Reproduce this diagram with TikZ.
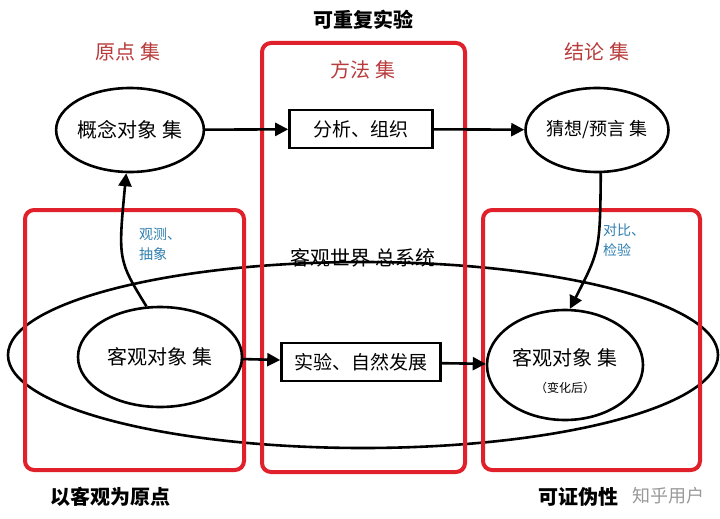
\documentclass[tikz,border=0pt]{standalone}
\usepackage{fontspec}
\setmainfont{Noto Sans CJK SC}
\usetikzlibrary{arrows.meta,shapes.geometric}
\definecolor{dred}{HTML}{B83A3A}
\definecolor{rbox}{HTML}{E0202A}
\definecolor{lblue}{HTML}{2F7FB0}
\begin{document}
\begin{tikzpicture}[x=1pt,y=-1pt,
  ell/.style={draw,line width=2.6pt,ellipse},
  box/.style={draw,line width=2.6pt,minimum height=38pt,font=\fontsize{19}{21}\selectfont},
  arr/.style={line width=2.6pt,-{Triangle[length=13pt,width=13pt]}},
  red/.style={draw=rbox,line width=4pt,rounded corners=9pt},
  hd/.style={font=\fontsize{20}{22}\selectfont,text=dred},
  lbl/.style={font=\fontsize{14}{20}\selectfont,text=lblue,align=left},
  bt/.style={font=\bfseries\fontsize{20}{22}\selectfont}]
\useasboundingbox (0,0) rectangle (720,519);
\draw[line width=2.6pt] (363,355) ellipse [x radius=355,y radius=93];
\draw[red] (25,210) rectangle (244,470);
\draw[red] (262,43) rectangle (465,472);
\draw[red] (483,210) rectangle (700,470);
\node[bt] (t) at (363,20) {可重复实验};
\node[hd] (h1) at (128,52) {原点 集};
\node[hd] (h2) at (363,70) {方法 集};
\node[hd] (h3) at (597,52) {结论 集};
\node[ell,minimum width=146pt,minimum height=84pt,inner sep=0pt,font=\fontsize{20}{22}\selectfont] (a) at (130,130) {概念对象 集};
\node[ell,minimum width=140pt,minimum height=84pt,inner sep=0pt,font=\fontsize{18}{20}\selectfont] (b) at (597,130) {猜想/预言 集};
\node[box,minimum width=143pt] (m1) at (361,129) {分析、组织};
\node[font=\fontsize{20}{22}\selectfont] (w) at (363,258) {客观世界 总系统};
\node[ell,minimum width=164pt,minimum height=100pt,inner sep=0pt,font=\fontsize{20}{22}\selectfont] (c) at (160,357) {客观对象 集};
\node[ell,minimum width=156pt,minimum height=110pt] (d) at (565,365) {};
\node[font=\fontsize{20}{22}\selectfont] (d1) at (565,358) {客观对象 集};
\node[font=\fontsize{12}{14}\selectfont] (d2) at (565,388) {（变化后）};
\node[box,minimum width=159pt] (m2) at (361,362) {实验、自然发展};
\draw[arr] (a) -- (m1);
\draw[arr] (m1) -- (b);
\draw[arr] (c) -- (m2);
\draw[arr] (m2) -- (d);
\draw[arr] (c.105) .. controls (118,260) .. (a.265);
\draw[arr] (b.275) .. controls (600,250) .. (d.85);
\node[lbl] (l1) at (160,244) {观测、\\抽象};
\node[lbl] (l2) at (624,240) {对比、\\检验};
\node[bt] (b1) at (110,497) {以客观为原点};
\node[bt] (b2) at (578,497) {可证伪性};
\node[text=black!40,font=\fontsize{18}{20}\selectfont] (wm) at (668,496) {知乎用户};
\end{tikzpicture}
\end{document}
